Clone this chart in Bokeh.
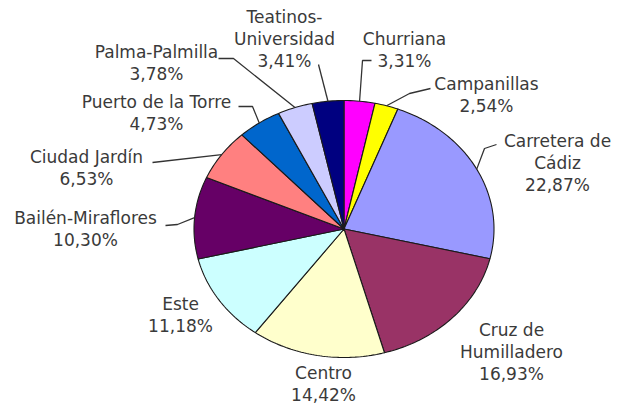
import numpy as np
from bokeh.plotting import figure
from bokeh.models import Range1d, ColumnDataSource
from bokeh.core.properties import value
from bokeh.embed import file_html
from bokeh.resources import INLINE

# ---- data ----
districts = ["Churriana", "Campanillas", "Carretera de\nCádiz", "Cruz de\nHumilladero",
             "Centro", "Este", "Bailén-Miraflores", "Ciudad Jardín",
             "Puerto de la Torre", "Palma-Palmilla", "Teatinos-\nUniversidad"]
shares = [3.31, 2.54, 22.87, 16.93, 14.42, 11.18, 10.30, 6.53, 4.73, 3.78, 3.41]
colors = ["#FF00FF", "#FFFF00", "#9999FF", "#993366", "#FFFFCC", "#CCFFFF",
          "#660066", "#FF8080", "#0066CC", "#CCCCFF", "#000080"]

# ---- layout (pixel positions, y downward) ----
W, H = 617, 403
CX, CY, RX, RY = 343.5, 228.5, 150.0, 128.5
label_pos = [(404, 49), (486, 94), (557, 162.5), (511, 351), (323, 383),
             (180, 314), (85, 228.5), (86, 167.5), (156, 112.5), (156, 62),
             (284, 38.5)]
# leader elbows (from slice edge outwards); None = no leader
leaders = [[(362, 60), (371, 60)],
           [(409, 93), (430, 88)],
           [(484, 148), (496, 144)],
           None,
           None,
           None,
           [(177, 224), (165, 225)],
           [(152, 162)],
           [(252, 106), (238, 106)],
           [(233, 58), (218, 58)],
           [(318, 64)]]

p = figure(width=W, height=H, output_backend="svg", toolbar_location=None,
           x_range=Range1d(0, W), y_range=Range1d(H, 0), min_border=0,
           background_fill_color="white", border_fill_color="white")
p.axis.visible = False
p.grid.visible = False
p.outline_line_color = None

total = sum(shares)
fr = np.array(shares) / total
ends = np.cumsum(fr) * 2 * np.pi
starts = ends - fr * 2 * np.pi

xs, ys = [], []
for a0, a1 in zip(starts, ends):
    n = max(3, int((a1 - a0) / (2 * np.pi) * 360))
    t = np.linspace(a0, a1, n)
    xs.append([CX] + list(CX + RX * np.sin(t)))
    ys.append([CY] + list(CY - RY * np.cos(t)))

p.patches(xs=xs, ys=ys, fill_color=colors, line_color="#1a1a1a", line_width=1.1)

# leader lines
for a0, a1, ld in zip(starts, ends, leaders):
    if ld is None:
        continue
    m = (a0 + a1) / 2
    px = CX + RX * np.sin(m)
    py = CY - RY * np.cos(m)
    lx = [px] + [q[0] for q in ld]
    ly = [py] + [q[1] for q in ld]
    p.line(lx, ly, line_color="#333333", line_width=1.3)

texts = [f"{d}\n" + f"{s:.2f}".replace(".", ",") + "%" for d, s in zip(districts, shares)]
src = ColumnDataSource(dict(x=[q[0] for q in label_pos], y=[q[1] for q in label_pos], t=texts))
p.text(x="x", y="y", text="t", source=src, text_align="center", text_baseline="middle",
       text_font=value("DejaVu Sans"), text_font_size="17px", text_color="#3a3a3a",
       text_line_height=1.1)

open("out.html", "w").write(file_html(p, INLINE))
